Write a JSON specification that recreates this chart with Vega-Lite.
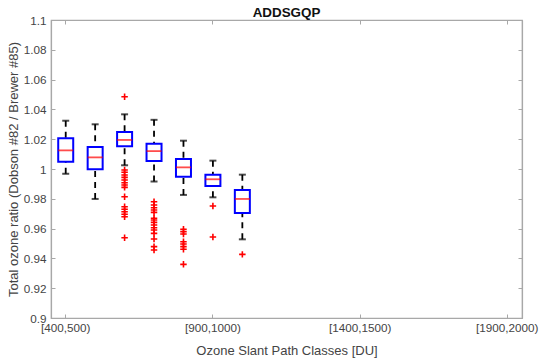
{
  "$schema": "https://vega.github.io/schema/vega-lite/v6.json",
  "width": 471,
  "height": 298,
  "autosize": "none",
  "padding": {"left": 51, "top": 20, "right": 18, "bottom": 44},
  "background": "white",
  "title": {"text": "ADDSGQP", "font": "Liberation Sans", "fontSize": 13.4, "fontWeight": "bold", "color": "#111111", "anchor": "middle", "offset": -4},
  "config": {
    "view": {"stroke": "#a8a8a8", "strokeWidth": 1.2},
    "axis": {"labelFont": "Liberation Sans", "titleFont": "Liberation Sans", "labelColor": "#444444", "titleColor": "#444444", "domainColor": "#a8a8a8", "tickColor": "#a8a8a8", "domainWidth": 1.2, "tickWidth": 1, "grid": false, "titleFontWeight": "normal"}
  },
  "datasets": {
    "boxes": [
      {"cls": "[400,500)", "lower": 0.9968, "q1": 1.0049, "median": 1.0125, "q3": 1.0206, "upper": 1.0324},
      {"cls": "[500,600)", "lower": 0.9799, "q1": 0.9998, "median": 1.0078, "q3": 1.0148, "upper": 1.0300},
      {"cls": "[600,700)", "lower": 1.0025, "q1": 1.0152, "median": 1.0195, "q3": 1.0248, "upper": 1.0367},
      {"cls": "[700,800)", "lower": 0.9916, "q1": 1.0054, "median": 1.0120, "q3": 1.0169, "upper": 1.0330},
      {"cls": "[800,900)", "lower": 0.9826, "q1": 0.9948, "median": 1.0011, "q3": 1.0067, "upper": 1.0190},
      {"cls": "[900,1000)", "lower": 0.9810, "q1": 0.9886, "median": 0.9931, "q3": 0.9962, "upper": 1.0056},
      {"cls": "[1000,1100)", "lower": 0.9528, "q1": 0.9705, "median": 0.9799, "q3": 0.9859, "upper": 0.9962}
    ],
    "outliers": [
      {"cls": "[600,700)", "v": 1.0485},
      {"cls": "[600,700)", "v": 0.9993},
      {"cls": "[600,700)", "v": 0.9978},
      {"cls": "[600,700)", "v": 0.9960},
      {"cls": "[600,700)", "v": 0.9944},
      {"cls": "[600,700)", "v": 0.9926},
      {"cls": "[600,700)", "v": 0.9908},
      {"cls": "[600,700)", "v": 0.9893},
      {"cls": "[600,700)", "v": 0.9877},
      {"cls": "[600,700)", "v": 0.9814},
      {"cls": "[600,700)", "v": 0.9747},
      {"cls": "[600,700)", "v": 0.9730},
      {"cls": "[600,700)", "v": 0.9713},
      {"cls": "[600,700)", "v": 0.9696},
      {"cls": "[600,700)", "v": 0.9680},
      {"cls": "[600,700)", "v": 0.9539},
      {"cls": "[700,800)", "v": 0.9780},
      {"cls": "[700,800)", "v": 0.9758},
      {"cls": "[700,800)", "v": 0.9740},
      {"cls": "[700,800)", "v": 0.9725},
      {"cls": "[700,800)", "v": 0.9709},
      {"cls": "[700,800)", "v": 0.9669},
      {"cls": "[700,800)", "v": 0.9658},
      {"cls": "[700,800)", "v": 0.9642},
      {"cls": "[700,800)", "v": 0.9624},
      {"cls": "[700,800)", "v": 0.9606},
      {"cls": "[700,800)", "v": 0.9591},
      {"cls": "[700,800)", "v": 0.9568},
      {"cls": "[700,800)", "v": 0.9530},
      {"cls": "[700,800)", "v": 0.9479},
      {"cls": "[700,800)", "v": 0.9456},
      {"cls": "[800,900)", "v": 0.9595},
      {"cls": "[800,900)", "v": 0.9579},
      {"cls": "[800,900)", "v": 0.9564},
      {"cls": "[800,900)", "v": 0.9512},
      {"cls": "[800,900)", "v": 0.9497},
      {"cls": "[800,900)", "v": 0.9479},
      {"cls": "[800,900)", "v": 0.9461},
      {"cls": "[800,900)", "v": 0.9360},
      {"cls": "[900,1000)", "v": 0.9752},
      {"cls": "[900,1000)", "v": 0.9544},
      {"cls": "[1000,1100)", "v": 0.9427}
    ]
  },
  "resolve": {"axis": {"x": "independent", "y": "independent"}},
  "layer": [
    {
      "data": {"name": "boxes"},
      "mark": {"type": "point", "opacity": 0},
      "encoding": {
        "x": {"field": "cls", "type": "nominal",
          "scale": {"domain": ["[400,500)", "[500,600)", "[600,700)", "[700,800)", "[800,900)", "[900,1000)", "[1000,1100)", "[1100,1200)", "[1200,1300)", "[1300,1400)", "[1400,1500)", "[1500,1600)", "[1600,1700)", "[1700,1800)", "[1800,1900)", "[1900,2000)"], "paddingInner": 0, "paddingOuter": 0},
          "axis": {"orient": "bottom", "values": ["[400,500)", "[900,1000)", "[1400,1500)", "[1900,2000)"], "tickSize": -4, "labelAngle": 0, "labelFontSize": 11.7, "labelPadding": 8.5, "title": "Ozone Slant Path Classes [DU]", "titleFontSize": 13, "titlePadding": 10}},
        "y": {"field": "median", "type": "quantitative",
          "scale": {"domain": [0.9, 1.1], "nice": false, "zero": false},
          "axis": {"orient": "left", "values": [0.9, 0.92, 0.94, 0.96, 0.98, 1.0, 1.02, 1.04, 1.06, 1.08, 1.1], "format": "~g", "tickSize": -4, "labelFontSize": 11.7, "labelPadding": 9, "title": "Total ozone ratio (Dobson #82 / Brewer #85)", "titleFontSize": 13, "titlePadding": 3}}
      }
    },
    {
      "data": {"name": "boxes"},
      "mark": {"type": "point", "opacity": 0},
      "encoding": {
        "x": {"field": "cls", "type": "nominal",
          "axis": {"orient": "top", "values": ["[400,500)", "[900,1000)", "[1400,1500)", "[1900,2000)"], "tickSize": -4, "labels": false, "title": null}},
        "y": {"field": "median", "type": "quantitative",
          "axis": {"orient": "right", "values": [0.9, 0.92, 0.94, 0.96, 0.98, 1.0, 1.02, 1.04, 1.06, 1.08, 1.1], "tickSize": -4, "labels": false, "title": null}}
      }
    },
    {
      "mark": {"type": "rule", "color": "#72b0e0", "strokeWidth": 1.2},
      "encoding": {"y": {"datum": 1, "type": "quantitative", "axis": null}}
    },
    {
      "data": {"name": "boxes"},
      "mark": {"type": "rule", "color": "black", "strokeWidth": 1.8, "strokeDash": [6, 5]},
      "encoding": {
        "x": {"field": "cls", "type": "nominal", "axis": null},
        "y": {"field": "upper", "type": "quantitative", "axis": null},
        "y2": {"field": "q3"}
      }
    },
    {
      "data": {"name": "boxes"},
      "mark": {"type": "rule", "color": "black", "strokeWidth": 1.8, "strokeDash": [6, 5]},
      "encoding": {
        "x": {"field": "cls", "type": "nominal", "axis": null},
        "y": {"field": "lower", "type": "quantitative", "axis": null},
        "y2": {"field": "q1"}
      }
    },
    {
      "data": {"name": "boxes"},
      "mark": {"type": "tick", "color": "black", "size": 7, "thickness": 2, "orient": "horizontal"},
      "encoding": {
        "x": {"field": "cls", "type": "nominal", "axis": null},
        "y": {"field": "upper", "type": "quantitative", "axis": null}
      }
    },
    {
      "data": {"name": "boxes"},
      "mark": {"type": "tick", "color": "black", "size": 7, "thickness": 2, "orient": "horizontal"},
      "encoding": {
        "x": {"field": "cls", "type": "nominal", "axis": null},
        "y": {"field": "lower", "type": "quantitative", "axis": null}
      }
    },
    {
      "data": {"name": "boxes"},
      "mark": {"type": "bar", "size": 15, "fill": "white", "fillOpacity": 0, "stroke": "#0000ff", "strokeWidth": 2},
      "encoding": {
        "x": {"field": "cls", "type": "nominal", "axis": null},
        "y": {"field": "q1", "type": "quantitative", "axis": null},
        "y2": {"field": "q3"}
      }
    },
    {
      "data": {"name": "boxes"},
      "mark": {"type": "tick", "color": "#ff0000", "size": 15, "thickness": 1.8, "orient": "horizontal"},
      "encoding": {
        "x": {"field": "cls", "type": "nominal", "axis": null},
        "y": {"field": "median", "type": "quantitative", "axis": null}
      }
    },
    {
      "data": {"name": "outliers"},
      "mark": {"type": "point", "shape": "M-1,0H1M0,-1V1", "filled": false, "stroke": "#ff0000", "strokeWidth": 1.6, "size": 42, "opacity": 1},
      "encoding": {
        "x": {"field": "cls", "type": "nominal", "axis": null},
        "y": {"field": "v", "type": "quantitative", "axis": null}
      }
    }
  ]
}
